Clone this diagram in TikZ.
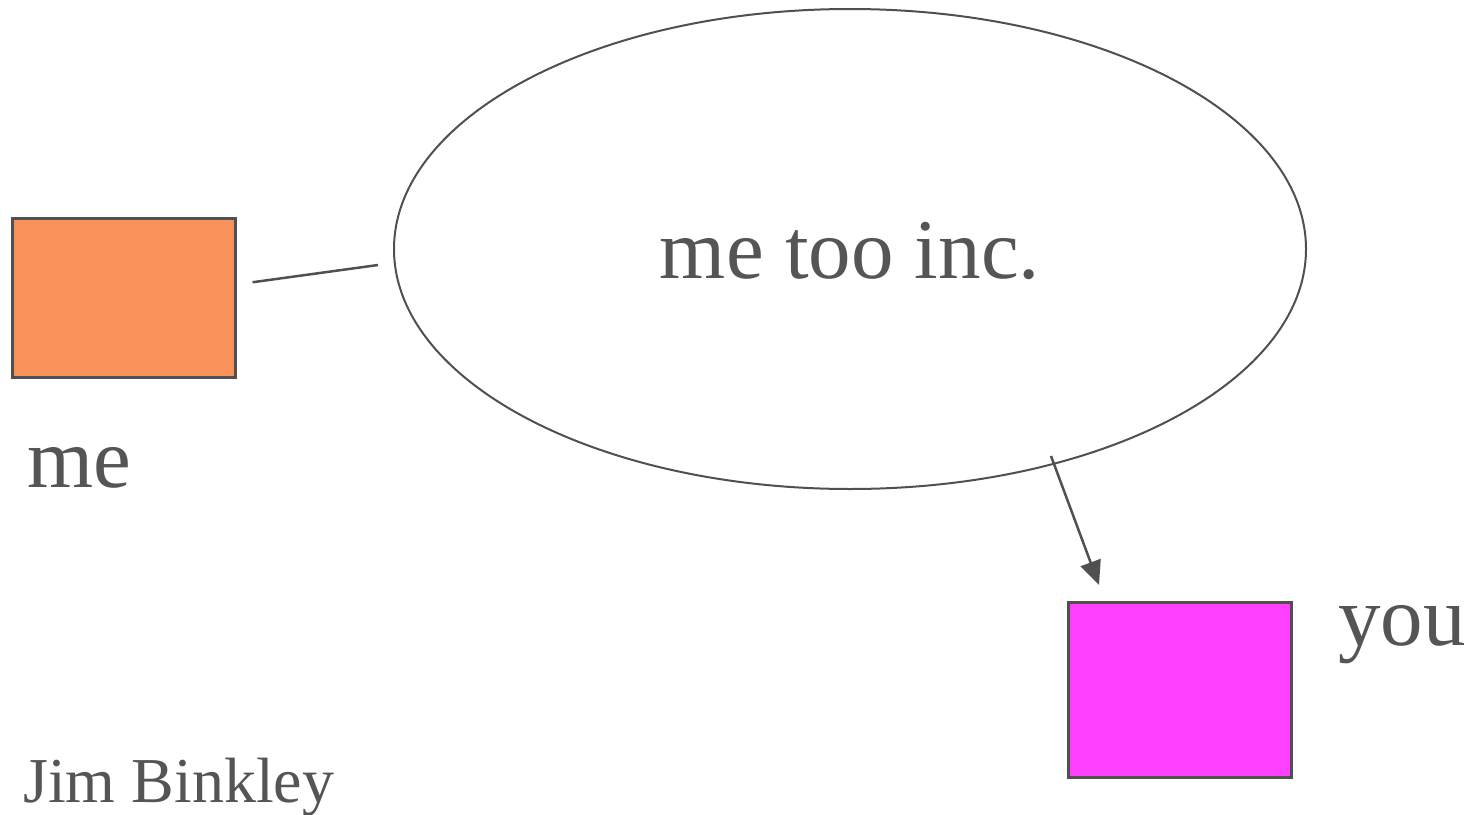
\documentclass[tikz,border=0pt]{standalone}
\usepackage{fontspec}
\setmainfont{Liberation Serif}
\usetikzlibrary{shapes.geometric,arrows.meta,calc}
\definecolor{ink}{HTML}{555555}
\definecolor{edge}{HTML}{505050}
\definecolor{orangefill}{HTML}{F8925A}
\definecolor{magentafill}{HTML}{FF40FF}
\tikzset{
  box/.style={draw=edge, line width=2.5pt, rectangle, inner sep=0pt},
  bubble/.style={draw=edge, line width=2pt, ellipse, inner sep=0pt,
    minimum width=912pt, minimum height=480pt},
  biglabel/.style={text=ink, inner sep=0pt, font=\fontsize{85}{90}\selectfont},
  smalllabel/.style={text=ink, inner sep=0pt, font=\fontsize{64}{70}\selectfont},
  link/.style={draw=edge, line width=2.5pt},
  flow/.style={draw=edge, line width=2.5pt, -{Triangle[length=24pt,width=21pt]}}
}
\begin{document}
\begin{tikzpicture}[x=1pt,y=-1pt]
  \useasboundingbox (0,0) rectangle (1470,814);

  % boxes
  \node[box, fill=orangefill, minimum width=223pt, minimum height=159pt, anchor=north west]
    (mebox) at (11,217) {};
  \node[box, fill=magentafill, minimum width=223pt, minimum height=175pt, anchor=north west]
    (youbox) at (1067,601) {};

  % company ellipse
  \node[bubble] (company) at (850,249) {};
  \node[biglabel, anchor=base] (companytext) at (850,278) {me too inc.};

  % labels
  \node[biglabel, anchor=base west] (melabel) at (27,487) {me};
  \node[biglabel, anchor=base west] (youlabel) at (1338,645) {you};
  \node[smalllabel, anchor=base west] (author) at (23,802) {Jim Binkley};

  % connectors
  \coordinate (linkstart) at ($(mebox.east)+(16,-15.5)$);
  \coordinate (linkend) at ($(company.west)+(-15,16)$);
  \draw[link] (linkstart) -- (linkend);

  \coordinate (flowstart) at ($(company.center)+(201,207)$);
  \coordinate (flowend) at ($(youbox.north west)+(32,-16)$);
  \draw[flow] (flowstart) -- (flowend);
\end{tikzpicture}
\end{document}
